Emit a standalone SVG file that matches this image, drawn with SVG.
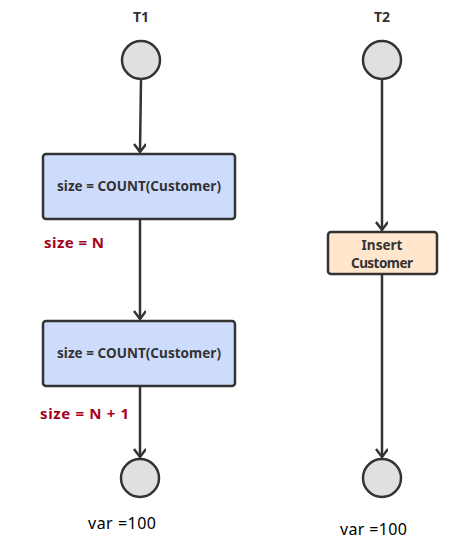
<svg xmlns="http://www.w3.org/2000/svg" width="473" height="556" viewBox="0 0 473 556">
<style>
.lbl{font-family:"Noto Sans","Liberation Sans",sans-serif;font-weight:bold;font-size:14px;fill:#333}
.box{stroke:#333;stroke-width:2.5}
.circ{fill:#e0e0e0;stroke:#333;stroke-width:2.5}
.txt{font-family:"Noto Sans","Liberation Sans",sans-serif;font-weight:bold;font-size:13.5px;fill:#333}
.red{font-family:"Noto Sans","Liberation Sans",sans-serif;font-weight:bold;font-size:15px;fill:#a50021}
.var{font-family:"Noto Sans","Liberation Sans",sans-serif;font-size:16px;fill:#000}
.edge{stroke:#333;stroke-width:2.5;fill:none}
</style>
<defs>
<marker id="arr" markerWidth="14" markerHeight="14" refX="10" refY="6" orient="auto" markerUnits="userSpaceOnUse">
<path d="M2,0 L10,6 L2,12" fill="none" stroke="#333" stroke-width="2.5"/>
</marker>
</defs>
<rect width="473" height="556" fill="#fff"/>
<text class="lbl" x="141" y="22" text-anchor="middle">T1</text>
<text class="lbl" x="382" y="22" text-anchor="middle">T2</text>
<g id="connectors">
<line class="edge" x1="141" y1="80" x2="140" y2="152" marker-end="url(#arr)"/>
<line class="edge" x1="140" y1="220" x2="140" y2="319" marker-end="url(#arr)"/>
<line class="edge" x1="140" y1="387" x2="140" y2="457" marker-end="url(#arr)"/>
<line class="edge" x1="382" y1="80" x2="382" y2="230" marker-end="url(#arr)"/>
<line class="edge" x1="382" y1="275" x2="382" y2="457" marker-end="url(#arr)"/>
</g>
<g id="t1start"><circle class="circ" cx="141" cy="60" r="19"/></g>
<g id="t2start"><circle class="circ" cx="382" cy="60" r="19"/></g>
<g id="count1">
<rect class="box" x="43" y="154" width="192" height="65" rx="3" fill="#cddcfc"/>
<text class="txt" x="139" y="191" text-anchor="middle" textLength="164" lengthAdjust="spacing">size = COUNT(Customer)</text>
</g>
<g id="count2">
<rect class="box" x="43" y="321" width="192" height="65" rx="3" fill="#cddcfc"/>
<text class="txt" x="139" y="358" text-anchor="middle" textLength="164" lengthAdjust="spacing">size = COUNT(Customer)</text>
</g>
<g id="insert">
<rect class="box" x="328" y="232" width="109" height="42" rx="3" fill="#ffe6cc"/>
<text class="txt" x="382" y="250" text-anchor="middle" font-size="12">Insert</text>
<text class="txt" x="382" y="268" text-anchor="middle" font-size="12" textLength="62" lengthAdjust="spacing">Customer</text>
</g>
<g id="t1end"><circle class="circ" cx="140" cy="478" r="19"/></g>
<g id="t2end"><circle class="circ" cx="382" cy="478" r="19"/></g>
<text class="red" x="44" y="248" textLength="60" lengthAdjust="spacing">size = N</text>
<text class="red" x="40" y="419" textLength="89" lengthAdjust="spacing">size = N + 1</text>
<text class="var" x="88" y="529" textLength="68" lengthAdjust="spacing">var =100</text>
<text class="var" x="340" y="535" textLength="67" lengthAdjust="spacing">var =100</text>
</svg>
